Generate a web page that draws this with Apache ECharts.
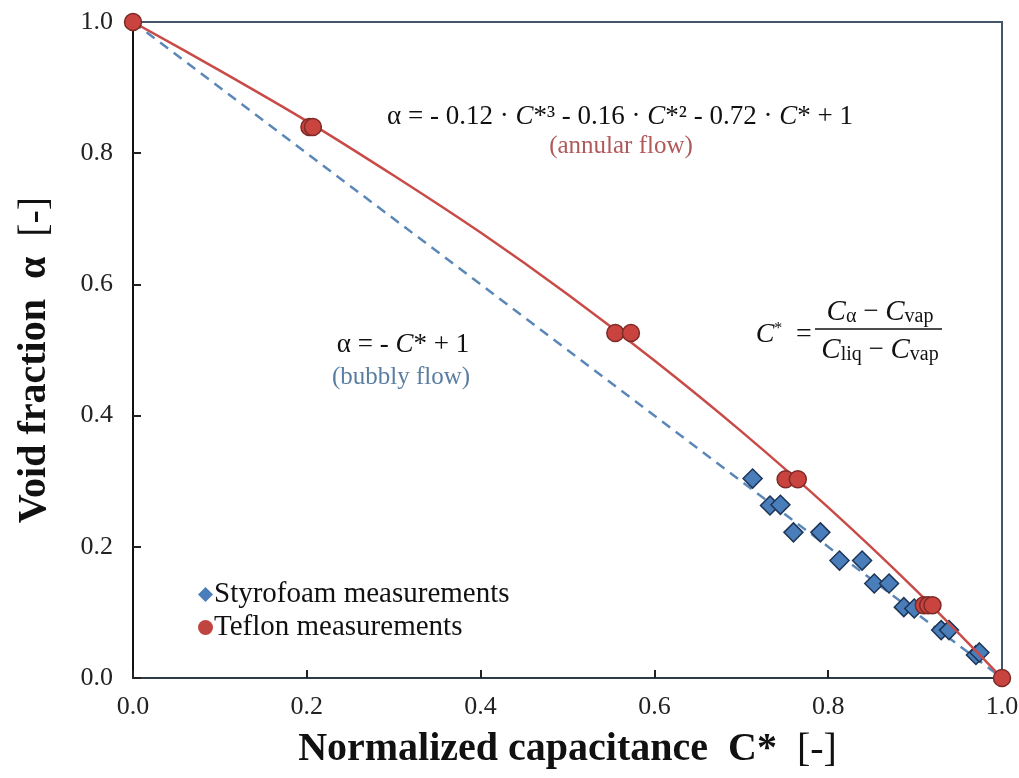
<!DOCTYPE html>
<html>
<head>
<meta charset="utf-8">
<script src="https://cdn.jsdelivr.net/npm/echarts@6/dist/echarts.min.js"></script>
<style>
html,body{margin:0;padding:0;background:#fff;}
#chart{width:1019px;height:778px;}
</style>
</head>
<body>
<div id="chart"></div>
<script>
// ---- data ----
const xTicks = [0.0, 0.2, 0.4, 0.6, 0.8, 1.0];
const yTicks = [0.0, 0.2, 0.4, 0.6, 0.8, 1.0];

const styroC = [0.713, 0.733, 0.745, 0.760, 0.791, 0.813, 0.839, 0.853, 0.870, 0.887, 0.899, 0.930, 0.939, 0.970, 0.974];
const styroA = [0.304, 0.263, 0.264, 0.222, 0.222, 0.179, 0.179, 0.144, 0.144, 0.108, 0.106, 0.073, 0.073, 0.035, 0.039];

const teflonC = [0.0, 0.203, 0.207, 0.555, 0.573, 0.751, 0.765, 0.910, 0.915, 0.920, 1.0];
const teflonA = [1.0, 0.840, 0.840, 0.526, 0.526, 0.303, 0.303, 0.111, 0.111, 0.111, 0.0];

const annularC = [0.0, 0.1, 0.2, 0.3, 0.4, 0.5, 0.6, 0.7, 0.8, 0.9, 1.0];
const annularA = [1.0, 0.926, 0.849, 0.766, 0.679, 0.585, 0.484, 0.376, 0.260, 0.135, 0.0];

const bubblyC = [0.0, 1.0];
const bubblyA = [1.0, 0.0];

const zip = (a, b) => a.map((v, i) => [v, b[i]]);

const serif = '"Liberation Serif", "Times New Roman", serif';
const chart = echarts.init(document.getElementById('chart'));

chart.setOption({
  backgroundColor: '#ffffff',
  animation: false,
  grid: {
    left: 133, right: 17, top: 22, bottom: 100,
    outerBoundsMode: 'none', containLabel: false,
    show: true, borderColor: '#44546a', borderWidth: 2, backgroundColor: 'transparent'
  },
  legend: {
    orient: 'vertical',
    left: 193, top: 575,
    itemWidth: 15, itemHeight: 15, itemGap: 4,
    data: [
      { name: 'Styrofoam measurements', icon: 'diamond', itemStyle: { color: '#4a7ebb', borderWidth: 0, opacity: 1 } },
      { name: 'Teflon measurements', icon: 'circle', itemStyle: { color: '#c0443f', borderWidth: 0, opacity: 1 } }
    ],
    textStyle: { fontFamily: serif, fontSize: 29, color: '#111', padding: [0, 0, 0, -4] }
  },
  xAxis: {
    type: 'value', min: xTicks[0], max: xTicks[xTicks.length - 1], interval: 0.2,
    name: '{b|Normalized capacitance  C*}{r|  [-]}',
    nameLocation: 'middle', nameGap: 52,
    nameTextStyle: {
      rich: {
        b: { fontFamily: serif, fontSize: 40, fontWeight: 'bold', color: '#111' },
        r: { fontFamily: serif, fontSize: 40, fontWeight: 'normal', color: '#111' }
      }
    },
    axisLine: { show: true, lineStyle: { color: '#2e3a46', width: 2 } },
    axisTick: { show: true, inside: true, length: 8, lineStyle: { color: '#222', width: 2 } },
    axisLabel: { fontFamily: serif, fontSize: 26, color: '#222', margin: 16, formatter: v => v.toFixed(1) },
    splitLine: { show: false }
  },
  yAxis: {
    type: 'value', min: yTicks[0], max: yTicks[yTicks.length - 1], interval: 0.2,
    name: '{b|Void fraction  α}{r|  [-]}',
    nameLocation: 'middle', nameGap: 78,
    nameTextStyle: {
      padding: [0, 20, 0, 0],
      rich: {
        b: { fontFamily: serif, fontSize: 40, fontWeight: 'bold', color: '#111' },
        r: { fontFamily: serif, fontSize: 40, fontWeight: 'normal', color: '#111' }
      }
    },
    axisLine: { show: true, lineStyle: { color: '#111', width: 2 } },
    axisTick: { show: true, inside: true, length: 8, lineStyle: { color: '#222', width: 2 } },
    axisLabel: { fontFamily: serif, fontSize: 26, color: '#222', margin: 20, formatter: v => v.toFixed(1) },
    splitLine: { show: false }
  },
  series: [
    {
      name: 'bubbly', type: 'line', data: zip(bubblyC, bubblyA), symbol: 'none', z: 1,
      lineStyle: { color: '#5b87b8', width: 2.5, type: [10, 7] }, silent: true
    },
    {
      name: 'Styrofoam measurements', type: 'scatter', data: zip(styroC, styroA), z: 2,
      symbol: 'diamond', symbolSize: 19,
      itemStyle: { color: '#4a7ebb', borderColor: '#1d3557', borderWidth: 1.5, opacity: 1 }
    },
    {
      name: 'annular', type: 'line', data: zip(annularC, annularA), symbol: 'none', z: 3,
      smooth: 0.3,
      lineStyle: { color: '#c94b47', width: 2.5 }, silent: true
    },
    {
      name: 'Teflon measurements', type: 'scatter', data: zip(teflonC, teflonA), z: 4,
      symbol: 'circle', symbolSize: 17,
      itemStyle: { color: '#c9443f', borderColor: '#7e2a27', borderWidth: 1.5, opacity: 1 }
    }
  ],
  graphic: [
    {
      type: 'text', x: 620, y: 117, z: 10,
      style: {
        text: '{n|α = - 0.12 · }{i|C}{n|*³ - 0.16 · }{i|C}{n|*² - 0.72 · }{i|C}{n|* + 1}',
        align: 'center', verticalAlign: 'middle',
        rich: {
          n: { fontFamily: serif, fontSize: 27, fill: '#111' },
          i: { fontFamily: serif, fontSize: 27, fontStyle: 'italic', fill: '#111' }
        }
      }
    },
    {
      type: 'text', x: 621, y: 146, z: 10,
      style: { text: '(annular flow)', align: 'center', verticalAlign: 'middle',
        font: '25px ' + serif, fill: '#b0585a' }
    },
    {
      type: 'text', x: 403, y: 345, z: 10,
      style: {
        text: '{n|α = - }{i|C}{n|* + 1}', align: 'center', verticalAlign: 'middle',
        rich: {
          n: { fontFamily: serif, fontSize: 27, fill: '#111' },
          i: { fontFamily: serif, fontSize: 27, fontStyle: 'italic', fill: '#111' }
        }
      }
    },
    {
      type: 'text', x: 401, y: 377, z: 10,
      style: { text: '(bubbly flow)', align: 'center', verticalAlign: 'middle',
        font: '25px ' + serif, fill: '#5a7ea3' }
    },
    {
      type: 'text', x: 769, y: 335, z: 10,
      style: {
        text: '{i|C}{s|*}', align: 'center', verticalAlign: 'middle',
        rich: {
          i: { fontFamily: serif, fontSize: 28, fontStyle: 'italic', fill: '#111' },
          s: { fontFamily: serif, fontSize: 16, fill: '#111', verticalAlign: 'top' }
        }
      }
    },
    {
      type: 'text', x: 804, y: 335, z: 10,
      style: { text: '=', align: 'center', verticalAlign: 'middle', font: '28px ' + serif, fill: '#111' }
    },
    {
      type: 'line', z: 10,
      shape: { x1: 815, y1: 329, x2: 942, y2: 329 },
      style: { stroke: '#111', lineWidth: 1.6 }
    },
    {
      type: 'text', x: 880, y: 312, z: 10,
      style: {
        text: '{i|C}{sub|α}{n| − }{i|C}{sub|vap}', align: 'center', verticalAlign: 'middle',
        rich: {
          i: { fontFamily: serif, fontSize: 29, fontStyle: 'italic', fill: '#111' },
          n: { fontFamily: serif, fontSize: 27, fill: '#111' },
          sub: { fontFamily: serif, fontSize: 20, fill: '#111', verticalAlign: 'bottom' }
        }
      }
    },
    {
      type: 'text', x: 880, y: 350, z: 10,
      style: {
        text: '{i|C}{sub|liq}{n| − }{i|C}{sub|vap}', align: 'center', verticalAlign: 'middle',
        rich: {
          i: { fontFamily: serif, fontSize: 29, fontStyle: 'italic', fill: '#111' },
          n: { fontFamily: serif, fontSize: 27, fill: '#111' },
          sub: { fontFamily: serif, fontSize: 20, fill: '#111', verticalAlign: 'bottom' }
        }
      }
    }
  ]
});
</script>
</body>
</html>
